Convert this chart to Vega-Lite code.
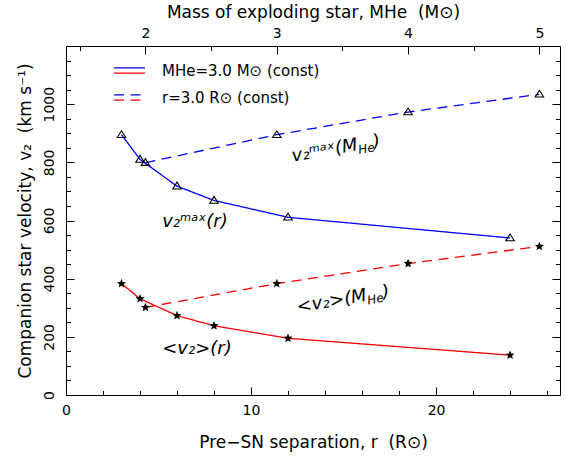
{
  "$schema": "https://vega.github.io/schema/vega-lite/v6.json",
  "width": 494,
  "height": 349,
  "autosize": {"type": "none"},
  "padding": {"left": 66, "top": 46, "right": 7, "bottom": 66},
  "background": "white",
  "datasets": {
    "solid": [
      {"r": 3, "v": 895, "stat": "max", "type": "MHe=3.0 M⊙ (const)"},
      {"r": 4, "v": 810, "stat": "max", "type": "MHe=3.0 M⊙ (const)"},
      {"r": 6, "v": 718, "stat": "max", "type": "MHe=3.0 M⊙ (const)"},
      {"r": 8, "v": 669, "stat": "max", "type": "MHe=3.0 M⊙ (const)"},
      {"r": 12, "v": 611, "stat": "max", "type": "MHe=3.0 M⊙ (const)"},
      {"r": 24, "v": 540, "stat": "max", "type": "MHe=3.0 M⊙ (const)"},
      {"r": 3, "v": 383, "stat": "mean", "type": "MHe=3.0 M⊙ (const)"},
      {"r": 4, "v": 331, "stat": "mean", "type": "MHe=3.0 M⊙ (const)"},
      {"r": 6, "v": 273, "stat": "mean", "type": "MHe=3.0 M⊙ (const)"},
      {"r": 8, "v": 238, "stat": "mean", "type": "MHe=3.0 M⊙ (const)"},
      {"r": 12, "v": 195, "stat": "mean", "type": "MHe=3.0 M⊙ (const)"},
      {"r": 24, "v": 137, "stat": "mean", "type": "MHe=3.0 M⊙ (const)"}
    ],
    "dashed": [
      {"M": 2, "v": 799, "stat": "max", "type": "r=3.0 R⊙ (const)"},
      {"M": 3, "v": 895, "stat": "max", "type": "r=3.0 R⊙ (const)"},
      {"M": 4, "v": 973, "stat": "max", "type": "r=3.0 R⊙ (const)"},
      {"M": 5, "v": 1034, "stat": "max", "type": "r=3.0 R⊙ (const)"},
      {"M": 2, "v": 301, "stat": "mean", "type": "r=3.0 R⊙ (const)"},
      {"M": 3, "v": 383, "stat": "mean", "type": "r=3.0 R⊙ (const)"},
      {"M": 4, "v": 452, "stat": "mean", "type": "r=3.0 R⊙ (const)"},
      {"M": 5, "v": 511, "stat": "mean", "type": "r=3.0 R⊙ (const)"}
    ],
    "ann": [
      {"r": 5.2, "v": 576, "label": "v₂ᵐᵃˣ(r)"},
      {"r": 5.2, "v": 141, "label": "<v₂>(r)"}
    ],
    "annM": [
      {"r": 15.8, "v": 842, "label": "v₂ᵐᵃˣ(M"},
      {"r": 16.29, "v": 325, "label": "<v₂>(M"}
    ]
  },
  "layer": [
    {
      "data": {"name": "solid"},
      "mark": {"type": "line", "strokeWidth": 1.3},
      "encoding": {
        "x": {"field": "r", "type": "quantitative", "scale": {"domain": [0, 26.7], "nice": false, "zero": false},
          "axis": {"orient": "bottom", "values": [0, 10, 20], "tickSize": -8, "labelPadding": 16, "labelFlush": false, "title": "Pre−SN separation, r \u00a0(R⊙)", "titlePadding": 17}},
        "y": {"field": "v", "type": "quantitative", "scale": {"domain": [0, 1200], "nice": false, "zero": false},
          "axis": {"orient": "left", "values": [0, 200, 400, 600, 800, 1000], "format": "d", "tickSize": -8, "labelAngle": -90, "labelAlign": "center", "labelBaseline": "alphabetic", "labelPadding": 21, "title": "Companion star velocity, v₂ \u00a0(km s⁻¹)", "titlePadding": 8}},
        "color": {"field": "stat", "type": "nominal", "scale": {"domain": ["max", "mean"], "range": ["#0000ff", "#ff0000"]}, "legend": null},
        "strokeDash": {"field": "type", "type": "nominal",
          "scale": {"domain": ["MHe=3.0 M⊙ (const)", "r=3.0 R⊙ (const)"], "range": [[1, 0], [10, 6.5]]},
          "legend": {"title": null, "orient": "none", "legendX": 47, "legendY": 8, "symbolType": "M-1,-0.174H1M-1,0.174H1", "symbolSize": 961, "symbolStrokeWidth": 1.3, "labelFontSize": 15, "labelOffset": 16, "rowPadding": 2, "padding": 0, "labelFont": "DejaVu Sans", "labelColor": "black",
            "encode": {"symbols": {"update": {"fill": {"value": "transparent"}, "stroke": {"value": {"gradient": "linear", "x1": 0, "y1": 0, "x2": 0, "y2": 1, "stops": [{"offset": 0, "color": "#0000ff"}, {"offset": 0.5, "color": "#0000ff"}, {"offset": 0.5, "color": "#ff0000"}, {"offset": 1, "color": "#ff0000"}]}}}}}}}
      }
    },
    {
      "data": {"name": "solid"},
      "transform": [{"filter": "datum.stat == 'max'"}],
      "mark": {"type": "point", "shape": "M0,-0.95L1,0.65L-1,0.65Z", "size": 72, "filled": false, "stroke": "black", "strokeWidth": 1.1, "opacity": 1},
      "encoding": {
        "x": {"field": "r", "type": "quantitative", "scale": {"domain": [0, 26.7], "nice": false, "zero": false},
          "axis": {"orient": "bottom", "values": [2, 4, 6, 8, 12, 14, 16, 18, 22, 24, 26], "tickSize": -4.5, "labels": false, "title": null}},
        "y": {"field": "v", "type": "quantitative", "scale": {"domain": [0, 1200], "nice": false, "zero": false},
          "axis": {"orient": "left", "values": [50, 100, 150, 250, 300, 350, 450, 500, 550, 650, 700, 750, 850, 900, 950, 1050, 1100, 1150], "tickSize": -4.5, "labels": false, "title": null}}
      }
    },
    {
      "data": {"name": "solid"},
      "transform": [{"filter": "datum.stat == 'mean'"}],
      "mark": {"type": "point", "shape": "M0,-1L0.2645,-0.364L0.951,-0.309L0.428,0.139L0.588,0.809L0,0.45L-0.588,0.809L-0.428,0.139L-0.951,-0.309L-0.2645,-0.364Z", "size": 90, "filled": true, "fill": "black", "opacity": 1},
      "encoding": {
        "x": {"field": "r", "type": "quantitative", "scale": {"domain": [0, 26.7], "nice": false, "zero": false}, "axis": null},
        "y": {"field": "v", "type": "quantitative", "scale": {"domain": [0, 1200], "nice": false, "zero": false},
          "axis": {"orient": "right", "values": [200, 400, 600, 800, 1000], "tickSize": -8, "labels": false, "title": null}}
      }
    },
    {
      "data": {"name": "dashed"},
      "mark": {"type": "line", "strokeWidth": 1.3},
      "encoding": {
        "x": {"field": "M", "type": "quantitative", "scale": {"domain": [1.395, 5.157], "nice": false, "zero": false},
          "axis": {"orient": "top", "values": [2, 3, 4, 5], "tickSize": -8, "labelPadding": 17, "labelBaseline": "alphabetic", "labelFlush": false, "title": "Mass of exploding star, MHe \u00a0(M⊙)", "titlePadding": 5}},
        "y": {"field": "v", "type": "quantitative", "scale": {"domain": [0, 1200], "nice": false, "zero": false},
          "axis": {"orient": "right", "values": [50, 100, 150, 250, 300, 350, 450, 500, 550, 650, 700, 750, 850, 900, 950, 1050, 1100, 1150], "tickSize": -4.5, "labels": false, "title": null}},
        "color": {"field": "stat", "type": "nominal", "scale": {"domain": ["max", "mean"], "range": ["#0000ff", "#ff0000"]}, "legend": null},
        "strokeDash": {"field": "type", "type": "nominal",
          "scale": {"domain": ["MHe=3.0 M⊙ (const)", "r=3.0 R⊙ (const)"], "range": [[1, 0], [10, 6.5]]},
          "legend": {"title": null, "orient": "none", "legendX": 47, "legendY": 8, "symbolType": "M-1,-0.174H1M-1,0.174H1", "symbolSize": 961, "symbolStrokeWidth": 1.3, "labelFontSize": 15, "labelOffset": 16, "rowPadding": 2, "padding": 0, "labelFont": "DejaVu Sans", "labelColor": "black",
            "encode": {"symbols": {"update": {"fill": {"value": "transparent"}, "stroke": {"value": {"gradient": "linear", "x1": 0, "y1": 0, "x2": 0, "y2": 1, "stops": [{"offset": 0, "color": "#0000ff"}, {"offset": 0.5, "color": "#0000ff"}, {"offset": 0.5, "color": "#ff0000"}, {"offset": 1, "color": "#ff0000"}]}}}}}}}
      }
    },
    {
      "data": {"name": "dashed"},
      "transform": [{"filter": "datum.stat == 'max'"}],
      "mark": {"type": "point", "shape": "M0,-0.95L1,0.65L-1,0.65Z", "size": 72, "filled": false, "stroke": "black", "strokeWidth": 1.1, "opacity": 1},
      "encoding": {
        "x": {"field": "M", "type": "quantitative", "scale": {"domain": [1.395, 5.157], "nice": false, "zero": false},
          "axis": {"orient": "top", "values": [1.5, 2.5, 3.5, 4.5], "tickSize": -4.5, "labels": false, "title": null}},
        "y": {"field": "v", "type": "quantitative", "scale": {"domain": [0, 1200], "nice": false, "zero": false}, "axis": null}
      }
    },
    {
      "data": {"name": "dashed"},
      "transform": [{"filter": "datum.stat == 'mean'"}],
      "mark": {"type": "point", "shape": "M0,-1L0.2645,-0.364L0.951,-0.309L0.428,0.139L0.588,0.809L0,0.45L-0.588,0.809L-0.428,0.139L-0.951,-0.309L-0.2645,-0.364Z", "size": 90, "filled": true, "fill": "black", "opacity": 1},
      "encoding": {
        "x": {"field": "M", "type": "quantitative", "scale": {"domain": [1.395, 5.157], "nice": false, "zero": false}, "axis": null},
        "y": {"field": "v", "type": "quantitative", "scale": {"domain": [0, 1200], "nice": false, "zero": false}, "axis": null}
      }
    },
    {
      "data": {"name": "ann"},
      "mark": {"type": "text", "align": "left", "baseline": "alphabetic", "font": "DejaVu Sans", "fontStyle": "italic", "fontSize": 18, "color": "black"},
      "encoding": {
        "x": {"field": "r", "type": "quantitative", "scale": {"domain": [0, 26.7], "nice": false, "zero": false}, "axis": null},
        "y": {"field": "v", "type": "quantitative", "scale": {"domain": [0, 1200], "nice": false, "zero": false}, "axis": null},
        "text": {"field": "label"}
      }
    },
    {
      "data": {"name": "annM"},
      "mark": {"type": "text", "align": "right", "baseline": "alphabetic", "angle": -10, "font": "DejaVu Sans", "fontStyle": "italic", "fontSize": 18, "color": "black"},
      "encoding": {
        "x": {"field": "r", "type": "quantitative", "scale": {"domain": [0, 26.7], "nice": false, "zero": false}, "axis": null},
        "y": {"field": "v", "type": "quantitative", "scale": {"domain": [0, 1200], "nice": false, "zero": false}, "axis": null},
        "text": {"field": "label"}
      }
    },
    {
      "data": {"name": "annM"},
      "mark": {"type": "text", "align": "left", "baseline": "alphabetic", "angle": -10, "dx": 0, "dy": 4, "font": "DejaVu Sans", "fontStyle": "italic", "fontSize": 12, "color": "black"},
      "encoding": {
        "x": {"field": "r", "type": "quantitative", "scale": {"domain": [0, 26.7], "nice": false, "zero": false}, "axis": null},
        "y": {"field": "v", "type": "quantitative", "scale": {"domain": [0, 1200], "nice": false, "zero": false}, "axis": null},
        "text": {"value": "He"}
      }
    },
    {
      "data": {"name": "annM"},
      "mark": {"type": "text", "align": "left", "baseline": "alphabetic", "angle": -10, "dx": 16, "dy": 0, "font": "DejaVu Sans", "fontStyle": "italic", "fontSize": 18, "color": "black"},
      "encoding": {
        "x": {"field": "r", "type": "quantitative", "scale": {"domain": [0, 26.7], "nice": false, "zero": false}, "axis": null},
        "y": {"field": "v", "type": "quantitative", "scale": {"domain": [0, 1200], "nice": false, "zero": false}, "axis": null},
        "text": {"value": ")"}
      }
    }
  ],
  "resolve": {"scale": {"x": "independent"}, "axis": {"x": "independent", "y": "independent"}},
  "config": {
    "view": {"stroke": "black", "strokeWidth": 1},
    "axis": {"domain": false, "grid": false, "tickColor": "black", "tickWidth": 1, "labelColor": "black", "titleColor": "black", "labelFont": "DejaVu Sans", "titleFont": "DejaVu Sans", "titleFontWeight": "normal", "labelFontSize": 14, "titleFontSize": 17, "labelOverlap": false},
    "text": {"font": "DejaVu Sans"}
  }
}
